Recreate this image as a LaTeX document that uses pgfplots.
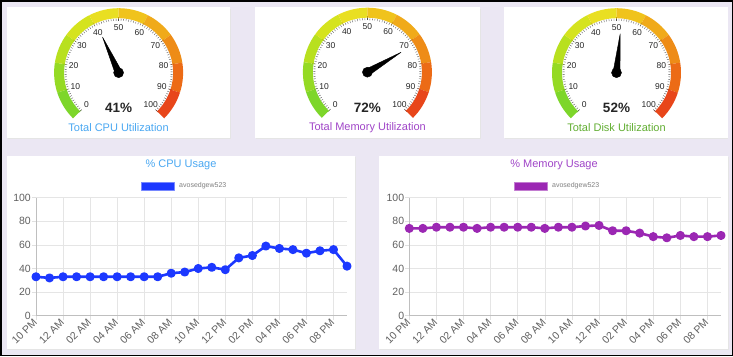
\documentclass[border=0pt]{standalone}
\usepackage{pgfplots}
\pgfplotsset{compat=1.18}
\usepgfplotslibrary{polar}
\usepackage{fontspec}
\setmainfont{Liberation Sans}
\definecolor{bg}{HTML}{EBE7F3}
\definecolor{cpuTitle}{HTML}{4AA8F2}
\definecolor{memTitle}{HTML}{A045C8}
\definecolor{diskTitle}{HTML}{62AE32}
\definecolor{cpuLine}{HTML}{1C38FF}
\definecolor{memLine}{HTML}{9B27B3}
\definecolor{g0}{HTML}{7DD62A}
\definecolor{g1}{HTML}{95DA24}
\definecolor{g2}{HTML}{B8E01F}
\definecolor{g3}{HTML}{D5E31E}
\definecolor{g4}{HTML}{E9DF22}
\definecolor{g5}{HTML}{F0C31C}
\definecolor{g6}{HTML}{F0AA1A}
\definecolor{g7}{HTML}{EE8C17}
\definecolor{g8}{HTML}{EC6B16}
\definecolor{g9}{HTML}{E8461A}

\newcommand\card[4]{%
  \fill[black!10] (#1pt+0.8pt,-#2pt-1.4pt) rectangle (#3pt+0.8pt,-#4pt-1.4pt);
  \fill[white] (#1pt,-#2pt) rectangle (#3pt,-#4pt);}

\newcommand\gauge[5]{%
  \begin{scope}[shift={(#1pt,-#2pt)}]
    \foreach \i/\c in {0/g0,1/g1,2/g2,3/g3,4/g4,5/g5,6/g6,7/g7,8/g8,9/g9}{
      \pgfmathsetmacro\sa{225-27*\i}
      \pgfmathsetmacro\ea{198-27*\i}
      \fill[\c] (\sa:64.5pt) arc[start angle=\sa, end angle=\ea, radius=64.5pt]
        -- (\ea:54.5pt) arc[start angle=\ea, end angle=\sa, radius=54.5pt] -- cycle;
      \draw[\c!80!black, line width=0.5pt] (\sa:53pt) -- (\sa:56pt);
    }
    \draw[g9!80!black, line width=0.5pt] (-45:53pt) -- (-45:56pt);
    \foreach \k in {0,...,100}{
      \draw[black!70, line width=0.35pt] ({225-2.7*\k}:52pt) -- ({225-2.7*\k}:54pt);
    }
    \foreach \k in {0,10,...,100}{
      \node[font=\fontsize{8.5}{8.5}\selectfont, text=black!85, inner sep=0pt] at ({225-2.7*\k}:45.5pt) {\k};
    }
    \node[font=\bfseries\fontsize{13.5}{14}\selectfont, text=black!85] at (0,-35.6pt) {#3\%};
    \node[text=#4, font=\fontsize{11}{11}\selectfont] at (0,-55.3pt) {#5};
  \end{scope}
  \pgfmathsetmacro\ang{225-2.7*#3}
  \pgfmathsetmacro\angL{\ang+90}
  \pgfmathsetmacro\angR{\ang-90}
  \begin{polaraxis}[at={(#1pt,-#2pt)}, anchor=center, hide axis, scale only axis,
      width=100pt, height=100pt, ymin=0, ymax=50, clip=false]
    \addplot[draw=black, fill=black, line join=round] coordinates {(\ang,39) (\angL,3.5) (\angR,3.5)} -- cycle;
    \addplot[only marks, mark=*, mark size=5pt, black] coordinates {(0,0)};
  \end{polaraxis}}

\pgfplotsset{
  linechart/.style={
    anchor=south west, scale only axis, width=311pt, height=118pt,
    xmin=0, xmax=23, ymin=0, ymax=100,
    xtick={0,2,...,22},
    xticklabels={10 PM,12 AM,02 AM,04 AM,06 AM,08 AM,10 AM,12 PM,02 PM,04 PM,06 PM,08 PM},
    ytick={0,20,...,100},
    grid=major, grid style={black!10, line width=0.5pt},
    axis x line*=bottom, axis y line*=left,
    axis line style={black!25, line width=0.6pt, -},
    tick align=outside, major tick length=4pt, tick style={black!12, line width=0.5pt},
    ticklabel style={text=black!62, font=\fontsize{10.5}{10.5}\selectfont},
    xticklabel style={rotate=45, anchor=east, inner sep=1pt},
    yticklabel style={inner sep=1pt},
    /pgf/number format/assume math mode=true,
    clip=false,
    legend style={draw=none, fill=none, inner sep=0pt, anchor=west,
      font=\fontsize{7}{7}\selectfont, text=black!50,
      nodes={inner sep=1.5pt}},
  }
}

\begin{document}
\begin{tikzpicture}
\useasboundingbox (0,0) rectangle (733pt,-356pt);
\fill[bg] (0,0) rectangle (733pt,-356pt);

\card{6.7}{7.3}{230}{138}
\card{255}{7.3}{480}{138}
\card{504}{7.3}{727.5}{138}
\card{6.7}{156}{355}{349}
\card{379}{156}{727.7}{349}

\gauge{118.6}{72.7}{41}{cpuTitle}{Total CPU Utilization}
\gauge{367.4}{72.2}{72}{memTitle}{Total Memory Utilization}
\gauge{616.5}{72.7}{52}{diskTitle}{Total Disk Utilization}

\node[text=cpuTitle, font=\fontsize{11}{11}\selectfont] at (181pt,-165pt) {\% CPU Usage};
\node[text=memTitle, font=\fontsize{11}{11}\selectfont] at (554pt,-165pt) {\% Memory Usage};

\begin{axis}[linechart, at={(36pt,-315.7pt)},
    legend style={at={(0.336,1.099)}},
    legend image code/.code={\draw[draw=cpuLine!60, fill=cpuLine, line width=0.5pt] (0pt,-3.8pt) rectangle (33pt,3.8pt);\path (35.5pt,0pt);}]
  \addplot[cpuLine, line width=2.6pt, mark=*, mark size=3.2pt, line join=round] coordinates {
    (0,33) (1,32) (2,33) (3,33) (4,33) (5,33) (6,33) (7,33) (8,33) (9,33)
    (10,36) (11,37) (12,40) (13,41) (14,39) (15,49) (16,51) (17,59) (18,57)
    (19,56) (20,53) (21,55) (22,56) (23,42)};
  \addlegendentry{avosedgew523}
\end{axis}

\begin{axis}[linechart, at={(409.3pt,-315.7pt)}, width=311.7pt,
    legend style={at={(0.334,1.099)}},
    legend image code/.code={\draw[draw=memLine!60, fill=memLine, line width=0.5pt] (0pt,-3.8pt) rectangle (33pt,3.8pt);\path (35.5pt,0pt);}]
  \addplot[memLine, line width=2.6pt, mark=*, mark size=3.2pt, line join=round] coordinates {
    (0,74) (1,74) (2,75) (3,75) (4,75) (5,74) (6,75) (7,75) (8,75) (9,75)
    (10,74) (11,75) (12,75) (13,76) (14,76.5) (15,72) (16,72) (17,70) (18,67)
    (19,66) (20,68) (21,67) (22,67) (23,68)};
  \addlegendentry{avosedgew523}
\end{axis}

\draw[black, line width=1.5pt] (0.75pt,-0.75pt) rectangle (732.25pt,-355.25pt);
\end{tikzpicture}
\end{document}
